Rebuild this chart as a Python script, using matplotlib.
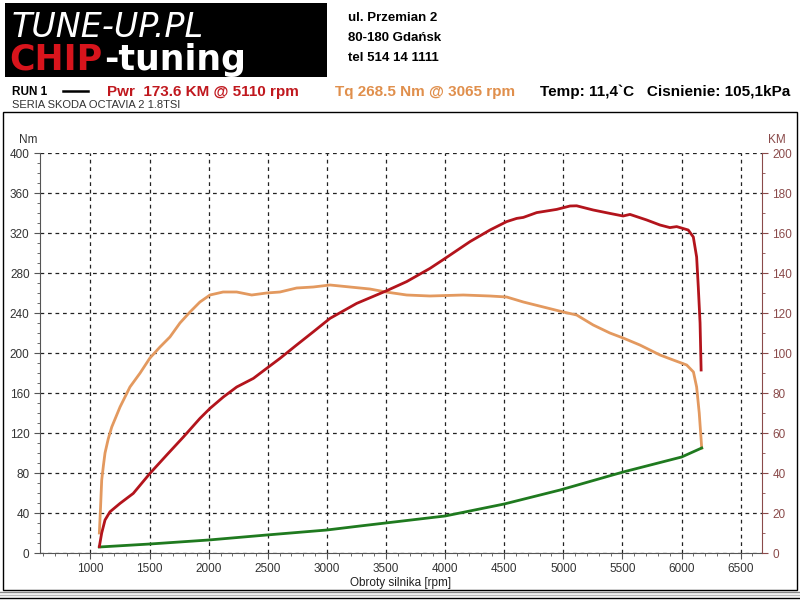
import matplotlib
matplotlib.use("Agg")
import matplotlib.pyplot as plt
from matplotlib.patches import Rectangle
from matplotlib.lines import Line2D
from matplotlib.ticker import MultipleLocator

plt.rcParams['font.family'] = ['Liberation Sans Narrow', 'Liberation Sans', 'DejaVu Sans']

# moment obrotowy [Nm]
tq_rpm = [1075, 1085, 1095, 1110, 1123, 1150, 1180, 1250, 1334, 1420, 1503, 1588, 1672,
          1757, 1842, 1926, 2011, 2122, 2237, 2364, 2490, 2603, 2744, 2885, 3026, 3195,
          3364, 3500, 3675, 3872, 4154, 4380, 4521, 4662, 4831, 5000, 5113, 5253, 5394,
          5506, 5648, 5818, 5930, 6044, 6101, 6128, 6150, 6162, 6171]
tq_nm = [20, 45, 73, 88, 100, 114, 126, 146, 166, 180, 195, 206, 216,
         230, 241, 251, 258, 261, 261, 258, 260, 261, 265, 266, 268, 266,
         264, 261, 258, 257, 258, 257, 256, 251, 246, 241, 238, 228, 220,
         215, 208, 198, 193, 188, 181, 166, 140, 120, 105]

# moc [KM]
pw_rpm = [1075, 1095, 1123, 1165, 1250, 1362, 1503, 1645, 1786, 1926, 2011, 2124, 2237,
          2378, 2490, 2603, 2744, 2885, 3026, 3252, 3500, 3675, 3872, 4000, 4211, 4380,
          4521, 4606, 4662, 4775, 4944, 5057, 5113, 5253, 5394, 5506, 5564, 5706, 5818,
          5902, 5959, 6057, 6100, 6128, 6142, 6157, 6166]
pw_km = [3.2, 10, 16.5, 20.6, 24.8, 29.8, 39.8, 49, 58, 67.3, 72.3, 78, 83,
         87.3, 92.3, 97.3, 104, 110.6, 117.3, 124.8, 131, 135.7, 142.3, 147.3, 155.7, 161.5,
         165.7, 167.3, 167.8, 170.2, 171.8, 173.5, 173.6, 171.5, 169.8, 168.5, 169.3, 166.5, 164,
         162.7, 163.2, 161.5, 158, 148, 133, 115, 91.5]

# straty (zielona)
loss_rpm = [1075, 1503, 2000, 2490, 3000, 3280, 4000, 4500, 4973, 5506, 6001, 6171]
loss_val = [6, 9, 13, 18, 23, 27, 37, 49, 63, 81, 96, 105]

x_ticks = [1000, 1500, 2000, 2500, 3000, 3500, 4000, 4500, 5000, 5500, 6000, 6500]

c_tq = '#E3995F'
c_pw = '#B3141C'
c_loss = '#1F7A1F'
c_km = '#8A4A4A'

fig = plt.figure(figsize=(8, 6), dpi=100)

def fx(px):
    return px / 800

def fy(py):
    return 1 - py / 600

# logo
fig.patches.append(Rectangle((fx(5), fy(77)), fx(322), 74 / 600, transform=fig.transFigure,
                             facecolor='black', edgecolor='none'))
fig.text(fx(12), fy(37), 'TUNE-UP.PL', color='white', fontsize=24, fontstyle='italic',
         family='DejaVu Sans', va='baseline', ha='left')
chip = fig.text(fx(9), fy(70), 'CHIP', color='#D8141C', fontsize=25, fontweight='heavy',
                family='DejaVu Sans', va='baseline', ha='left')
r = fig.canvas.get_renderer()
bb = chip.get_window_extent(r)
fig.text(bb.x1 / 800 + fx(2), fy(70), '-tuning', color='white', fontsize=25,
         fontweight='heavy', family='DejaVu Sans', va='baseline', ha='left')

for i, line in enumerate(['ul. Przemian 2', '80-180 Gdańsk', 'tel 514 14 1111']):
    fig.text(fx(348), fy(18 + 20 * i), line, fontsize=9.5, fontweight='bold',
             family='Liberation Sans', va='center')

fig.text(fx(12), fy(92), 'RUN 1', fontsize=8.5, fontweight='bold', va='center')
fig.add_artist(Line2D([fx(63), fx(88)], [fy(91), fy(91)], color='black', lw=1.8,
                      transform=fig.transFigure))
fig.text(fx(107), fy(92), 'Pwr  173.6 KM @ 5110 rpm', color='#C0181E', fontsize=11,
         fontweight='bold', va='center')
fig.text(fx(335), fy(92), 'Tq 268.5 Nm @ 3065 rpm', color='#E08F4C', fontsize=11,
         fontweight='bold', va='center')
fig.text(fx(540), fy(92), 'Temp: 11,4`C   Cisnienie: 105,1kPa', color='black', fontsize=11,
         fontweight='bold', va='center')
fig.text(fx(12), fy(105), 'SERIA SKODA OCTAVIA 2 1.8TSI', fontsize=8, va='center',
         color='#333333')

# ramka
fig.patches.append(Rectangle((fx(3), fy(590)), fx(794), 478 / 600, transform=fig.transFigure,
                             facecolor='none', edgecolor='black', lw=1))
for py, c in [(592, '#888888'), (595, '#bbbbbb'), (598, 'black')]:
    fig.add_artist(Line2D([0, 1], [fy(py), fy(py)], color=c, lw=1, transform=fig.transFigure))

ax = fig.add_axes([fx(40), fy(553), fx(722), 400 / 600])
ax.plot(tq_rpm, tq_nm, color=c_tq, lw=2)
ax.plot(loss_rpm, loss_val, color=c_loss, lw=2)
ax.set_xlim(573, 6681)
ax.set_ylim(0, 400)
ax.set_xticks(x_ticks)
ax.xaxis.set_minor_locator(MultipleLocator(100))
ax.yaxis.set_major_locator(MultipleLocator(40))
ax.yaxis.set_minor_locator(MultipleLocator(10))
ax.grid(True, which='major', color='#222222', ls=(0, (3, 3)), lw=0.9)
ax.spines['top'].set_visible(False)
ax.spines['right'].set_visible(False)
for s in ['left', 'bottom']:
    ax.spines[s].set_color('#555555')
ax.tick_params(axis='both', which='major', labelsize=8.5, colors='#555555', labelcolor='#333333',
               length=4)
ax.tick_params(axis='both', which='minor', colors='#555555', length=2.5)
ax.set_xlabel('Obroty silnika [rpm]', fontsize=8.5, labelpad=1, color='#222222')
fig.text(fx(28), fy(140), 'Nm', fontsize=8.5, color='#333333', ha='center', va='center')

ax2 = ax.twinx()
ax2.plot(pw_rpm, pw_km, color=c_pw, lw=2)
ax2.set_ylim(0, 200)
ax2.yaxis.set_major_locator(MultipleLocator(20))
ax2.yaxis.set_minor_locator(MultipleLocator(10))
ax2.spines['top'].set_visible(False)
ax2.spines['left'].set_visible(False)
ax2.spines['bottom'].set_visible(False)
ax2.spines['right'].set_color(c_km)
ax2.tick_params(axis='y', which='major', labelsize=8.5, colors=c_km, length=4)
ax2.tick_params(axis='y', which='minor', colors=c_km, length=2.5)
fig.text(fx(777), fy(140), 'KM', fontsize=8.5, color=c_km, ha='center', va='center')

fig.savefig('out.png', dpi=100)
